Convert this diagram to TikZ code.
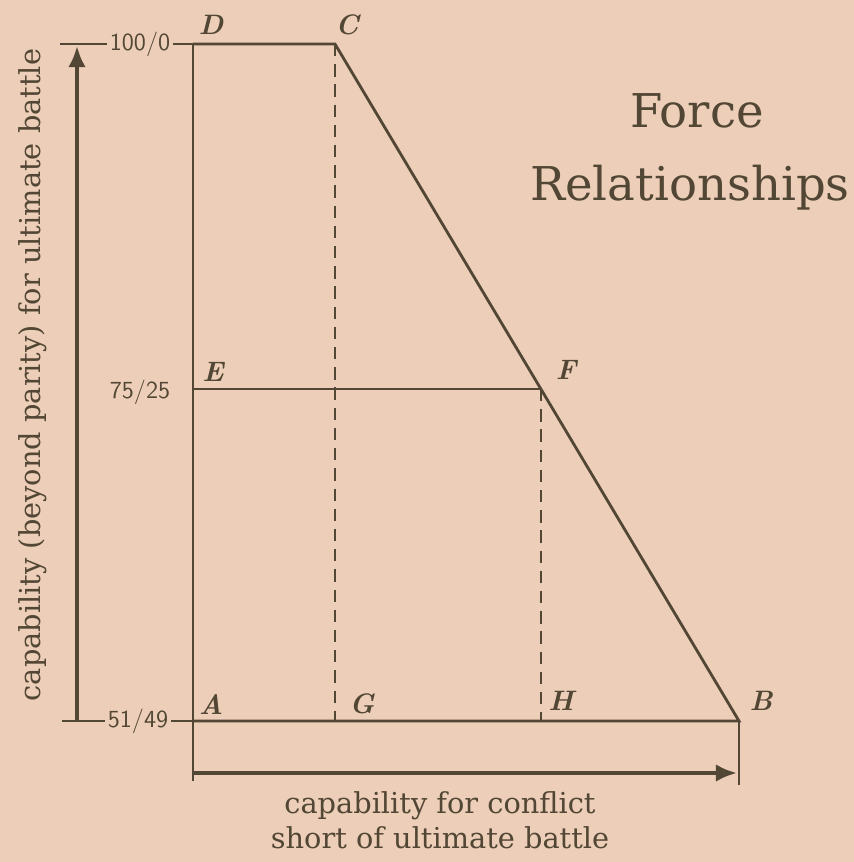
\documentclass[tikz,border=0pt]{standalone}
\usepackage{fontspec}
\usepackage{xcolor}
\usepackage{tikz}
\usetikzlibrary{arrows.meta, positioning}
\newfontfamily\bookfont{DejaVu Serif}
\definecolor{paper}{RGB}{237,207,185}
\definecolor{ink}{RGB}{82,70,52}

\begin{document}
\begin{tikzpicture}[x=0.02cm, y=-0.02cm, line width=1.6pt, color=ink,
    pt/.style={font=\fontsize{16}{19}\selectfont\bfseries\itshape},
    val/.style={font=\fontsize{14}{16}\selectfont\sffamily, inner sep=1pt},
    lab/.style={font=\fontsize{16.4}{20}\selectfont\bookfont},
    ttl/.style={font=\fontsize{26.5}{32}\selectfont\bookfont, anchor=base},
    axis/.style={line width=2.3pt, -{Latex[length=12pt,width=10pt]}},
    guide/.style={dash pattern=on 7pt off 4.5pt, line width=1.4pt}]
        \fill[paper] (0,0) rectangle (854,862);
        \useasboundingbox (0,0) rectangle (854,862);

        % corner points
        \coordinate (A) at (193,721);
        \coordinate (B) at (739,721);
        \coordinate (C) at (335,44);
        \coordinate (D) at (193,44);
        \coordinate (E) at (193,389);
        \coordinate (F) at (541,389);
        \coordinate (G) at (335,721);
        \coordinate (H) at (541,721);
        \coordinate (Ad) at (193,781);
        \coordinate (Bd) at (739,785);

        \node[pt] (lD) at (211,25) {D};
        \node[pt] (lC) at (347,25) {C};
        \node[pt] (lE) at (213,372) {E};
        \node[pt] (lF) at (566,370) {F};
        \node[pt] (lA) at (211,704) {A};
        \node[pt] (lG) at (362,704) {G};
        \node[pt] (lH) at (561,701) {H};
        \node[pt] (lB) at (761,701) {B};

        \node[val] (v100) at (140,44) {100/0};
        \node[val] (v75) at (140,392) {75/25};
        \node[val] (v51) at (138,721) {51/49};
        \coordinate (t100) at (60,44);
        \coordinate (t51) at (62,721);

        \draw (t100) -- (v100.west);
        \draw (v100.east) -- (D);
        \draw (t51) -- (v51.west);
        \draw (v51.east) -- (A);

        \draw (D) -- (C) -- (B) -- (A);
        \draw (D) -- (Ad);
        \draw (B) -- (Bd);
        \draw (E) -- (F);
        \draw[guide] (C) -- (G);
        \draw[guide] (F) -- (H);

        % axes
        \coordinate (yb) at (77,721);
        \coordinate (yt) at (77,46);
        \coordinate (xl) at (193,773);
        \coordinate (xr) at (737,773);
        \draw[axis] (yb) -- (yt);
        \draw[axis] (xl) -- (xr);

        \node[lab, rotate=90] (ylab) at (33,375) {capability (beyond parity) for ultimate battle};
        \node[lab, anchor=base] (xlab1) at (440,813) {capability for conflict};
        \node[lab, anchor=base] (xlab2) at (440,848) {short of ultimate battle};

        \node[ttl] (ttl1) at (697,127) {Force};
        \node[ttl] (ttl2) at (690,200) {Relationships};
    \end{tikzpicture}
\end{document}
